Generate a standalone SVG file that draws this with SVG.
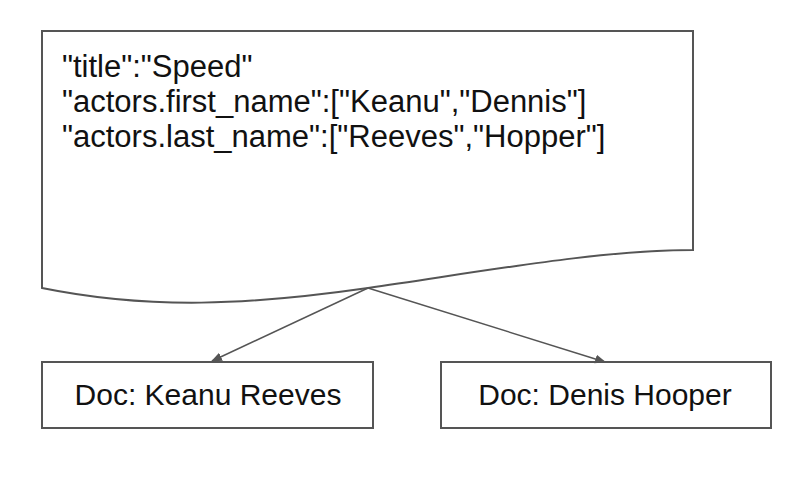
<svg xmlns="http://www.w3.org/2000/svg" width="808" height="482" viewBox="0 0 808 482">
<style>
.shape{fill:#fff;stroke:#555;stroke-width:2}
.t{font-family:"Liberation Sans",Arial,sans-serif;fill:#111}
.d{font-size:31px}
.b{font-size:30px;text-anchor:middle}
.edge{stroke:#555;stroke-width:1.5;fill:none}
</style>
<defs>
<marker id="ah" viewBox="0 0 10 10" refX="9" refY="5" markerWidth="11" markerHeight="11" markerUnits="userSpaceOnUse" orient="auto">
<path d="M0,1 L10,5 L0,9 Z" fill="#555"/>
</marker>
</defs>
<rect width="808" height="482" fill="#fff"/>
<g id="doc">
<path class="shape" d="M42,31 H693 V250 C600,250 486,271 368,288 C250,305 150,310 42,288 Z"/>
<text class="t d" x="62" y="77">"title":"Speed"</text>
<text class="t d" x="62" y="112">"actors.first_name":["Keanu","Dennis"]</text>
<text class="t d" x="62" y="147">"actors.last_name":["Reeves","Hopper"]</text>
</g>
<g id="keanu">
<rect class="shape" x="42" y="362" width="331" height="66"/>
<text class="t b" x="208" y="405">Doc: Keanu Reeves</text>
</g>
<g id="denis">
<rect class="shape" x="441" y="362" width="330" height="66"/>
<text class="t b" x="605" y="405">Doc: Denis Hooper</text>
</g>
<g id="connectors">
<line class="edge" x1="368" y1="288" x2="212" y2="361" marker-end="url(#ah)"/>
<line class="edge" x1="368" y1="288" x2="605" y2="362" marker-end="url(#ah)"/>
</g>
</svg>
